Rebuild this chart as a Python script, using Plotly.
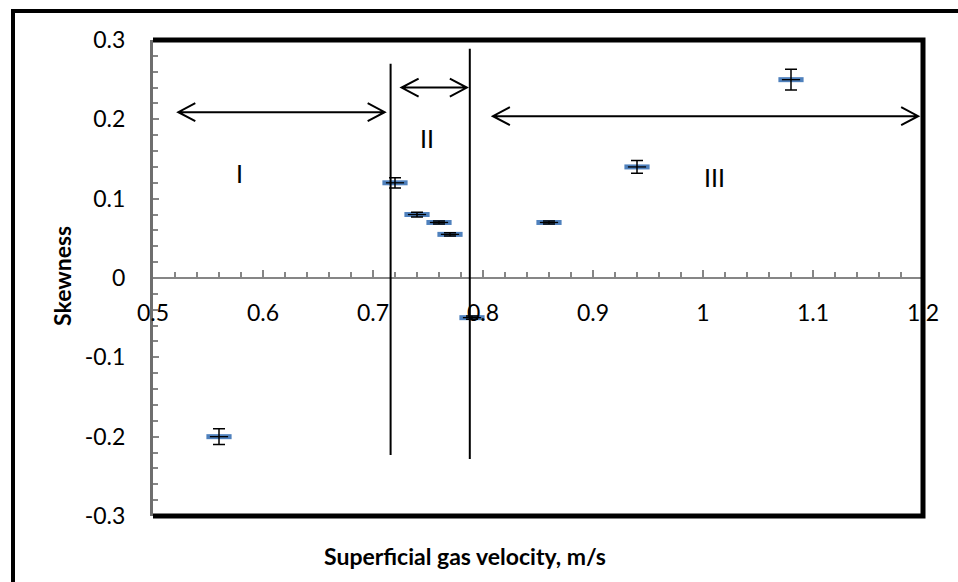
import plotly.graph_objects as go

# Measured skewness vs. superficial gas velocity
velocity = [0.56, 0.72, 0.74, 0.76, 0.77, 0.79, 0.86, 0.94, 1.08]
skewness = [-0.20, 0.12, 0.08, 0.07, 0.055, -0.05, 0.07, 0.14, 0.25]
skew_err = [0.010, 0.0065, 0.003, 0.002, 0.002, 0.002, 0.002, 0.008, 0.013]

x_tickvals = [0.5, 0.6, 0.7, 0.8, 0.9, 1.0, 1.1, 1.2]
x_ticktext = ["0.5", "0.6", "0.7", "0.8", "0.9", "1", "1.1", "1.2"]
y_tickvals = [-0.3, -0.2, -0.1, 0.0, 0.1, 0.2, 0.3]
y_ticktext = ["-0.3", "-0.2", "-0.1", "0", "0.1", "0.2", "0.3"]

# Flow regime boundaries and annotations
divider_x = [0.716, 0.788]
divider_y = [(-0.223, 0.270), (-0.228, 0.289)]
regime_names = ["I", "II", "III"]
regime_x = [0.579, 0.749, 1.010]
regime_y = [0.132, 0.176, 0.127]
arrow_x = [(0.523, 0.7106), (0.726, 0.7853), (0.809, 1.1956)]
arrow_y = [0.209, 0.240, 0.204]

W, H = 958, 582
ML, MR, MT, MB = 153, 35, 40, 66
PW, PH = W - ML - MR, H - MT - MB
XR, YR = (0.5, 1.2), (-0.3, 0.3)
FONT = "Lato"


def px_x(p):
    return (p - ML) / PW


def px_y(p):
    return (H - MB - p) / PH


fig = go.Figure()

# blue dash markers
fig.add_trace(go.Scatter(
    x=velocity, y=skewness, mode="markers",
    marker=dict(symbol="line-ew", size=18, color="#4F81BD",
                line=dict(color="#4F81BD", width=5)),
    showlegend=False, hoverinfo="skip"))

# black centre line + error bars on top
fig.add_trace(go.Scatter(
    x=velocity, y=skewness, mode="markers",
    marker=dict(symbol="line-ew", size=13, color="black",
                line=dict(color="black", width=1.3)),
    error_y=dict(type="data", array=skew_err, visible=True,
                 color="black", thickness=1.5, width=6),
    showlegend=False))

shapes = []
# regime dividers
for xv, (y0, y1) in zip(divider_x, divider_y):
    shapes.append(dict(type="line", xref="x", yref="y", x0=xv, x1=xv,
                       y0=y0, y1=y1, line=dict(color="black", width=2)))

# double-headed arrows with open chevrons
dx = 17 * (XR[1] - XR[0]) / PW
dy = 9 * (YR[1] - YR[0]) / PH
for (x0, x1), yv in zip(arrow_x, arrow_y):
    path = (f"M{x0},{yv} L{x1},{yv} "
            f"M{x0+dx},{yv+dy} L{x0},{yv} L{x0+dx},{yv-dy} "
            f"M{x1-dx},{yv+dy} L{x1},{yv} L{x1-dx},{yv-dy}")
    shapes.append(dict(type="path", xref="x", yref="y", path=path,
                       line=dict(color="black", width=2)))

# plot-area frame (top, right, bottom)
shapes.append(dict(type="path", xref="paper", yref="paper",
                   path="M0,1 L1,1 L1,0 L0,0",
                   line=dict(color="black", width=5)))
# outer chart frame
shapes.append(dict(type="rect", xref="paper", yref="paper",
                   x0=px_x(13), x1=px_x(W + 20), y0=px_y(H + 20), y1=px_y(11),
                   line=dict(color="black", width=4)))

annotations = []
for name, xv, yv in zip(regime_names, regime_x, regime_y):
    annotations.append(dict(x=xv, y=yv, xref="x", yref="y", text=name,
                            xanchor="center", yanchor="middle", showarrow=False,
                            font=dict(family=FONT, size=25, color="black")))

annotations.append(dict(x=px_x(62), y=px_y(276), xref="paper", yref="paper",
                        text="<b>Skewness</b>", textangle=-90, showarrow=False,
                        xanchor="center", yanchor="middle",
                        font=dict(family=FONT, size=23, color="black")))
annotations.append(dict(x=px_x(465), y=px_y(556), xref="paper", yref="paper",
                        text="<b>Superficial gas velocity, m/s</b>", showarrow=False,
                        xanchor="center", yanchor="middle",
                        font=dict(family=FONT, size=23, color="black")))

fig.update_layout(
    width=W, height=H,
    margin=dict(l=ML, r=MR, t=MT, b=MB),
    paper_bgcolor="white", plot_bgcolor="white",
    shapes=shapes, annotations=annotations,
    font=dict(family=FONT, size=23, color="black"),
    xaxis=dict(range=list(XR), tickvals=x_tickvals, ticktext=x_ticktext,
               anchor="free", position=0.5, showgrid=False, zeroline=False,
               showline=True, linecolor="#868686", linewidth=2,
               ticks="inside", ticklen=7, tickwidth=1.5, tickcolor="#868686",
               minor=dict(dtick=0.02, tick0=0.5, ticks="inside", ticklen=5,
                          tickwidth=1.5, tickcolor="#868686", showgrid=False),
               ticklabelstandoff=14, tickfont=dict(family=FONT, size=23)),
    yaxis=dict(range=list(YR), tickvals=y_tickvals, ticktext=y_ticktext,
               showgrid=False, zeroline=False,
               showline=True, linecolor="#6e6e6e", linewidth=3,
               ticks="inside", ticklen=6, tickwidth=1.5, tickcolor="#868686",
               minor=dict(dtick=0.02, tick0=-0.3, ticks="inside", ticklen=5,
                          tickwidth=1.5, tickcolor="#868686", showgrid=False),
               ticklabelstandoff=20, tickfont=dict(family=FONT, size=23)),
)

fig.write_html("out.html")
